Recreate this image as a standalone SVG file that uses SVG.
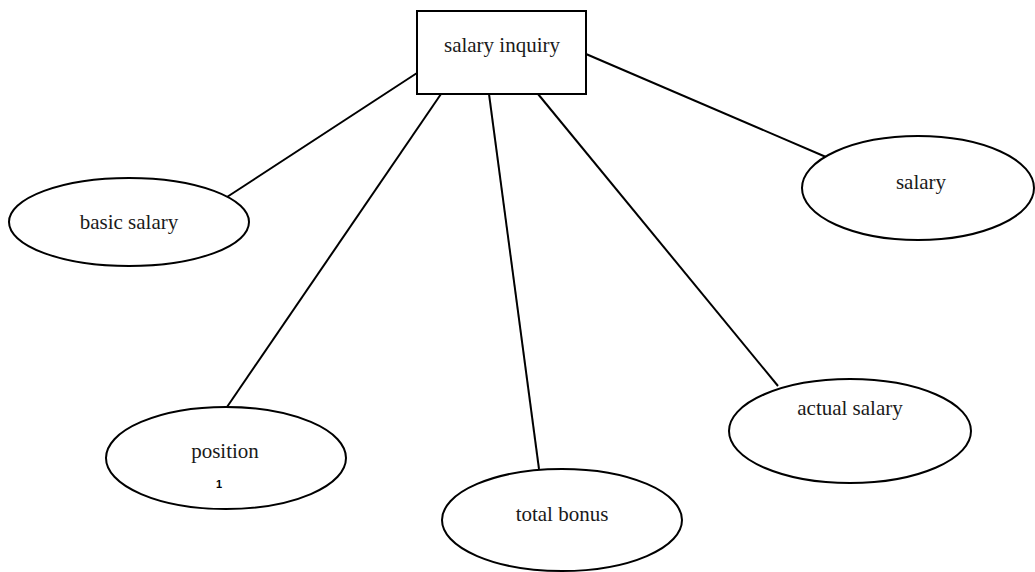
<svg xmlns="http://www.w3.org/2000/svg" width="1035" height="572" viewBox="0 0 1035 572">
<style>
.n{fill:#fff;stroke:#000;stroke-width:2}
.t{font-family:"Liberation Serif","Times New Roman",serif;font-size:21px;fill:#1a1a1a;text-anchor:middle}
.c line{stroke:#000;stroke-width:2}
</style>
<rect width="1035" height="572" fill="#fff"/>
<g class="c" id="connectors">
<line x1="417" y1="73" x2="227" y2="197"/>
<line x1="441" y1="94" x2="227" y2="407"/>
<line x1="489" y1="94" x2="539" y2="469"/>
<line x1="538" y1="94" x2="778" y2="386"/>
<line x1="586" y1="54" x2="826" y2="157"/>
</g>
<g id="salary-inquiry"><rect class="n" x="417" y="11" width="169" height="83"/><text class="t" x="502" y="52">salary inquiry</text></g>
<g id="basic-salary"><ellipse class="n" cx="129" cy="222" rx="120" ry="44"/><text class="t" x="129" y="229">basic salary</text></g>
<g id="salary"><ellipse class="n" cx="918" cy="188" rx="116" ry="52"/><text class="t" x="921" y="189">salary</text></g>
<g id="position"><ellipse class="n" cx="226" cy="458" rx="120" ry="51"/><text class="t" x="225" y="458">position</text><text x="219" y="488" style="font-family:'Liberation Sans',sans-serif;font-size:11px;font-weight:bold" text-anchor="middle">1</text></g>
<g id="actual-salary"><ellipse class="n" cx="850" cy="431" rx="121" ry="52"/><text class="t" x="850" y="415">actual salary</text></g>
<g id="total-bonus"><ellipse class="n" cx="562" cy="520" rx="120" ry="51"/><text class="t" x="562" y="521">total bonus</text></g>
</svg>
